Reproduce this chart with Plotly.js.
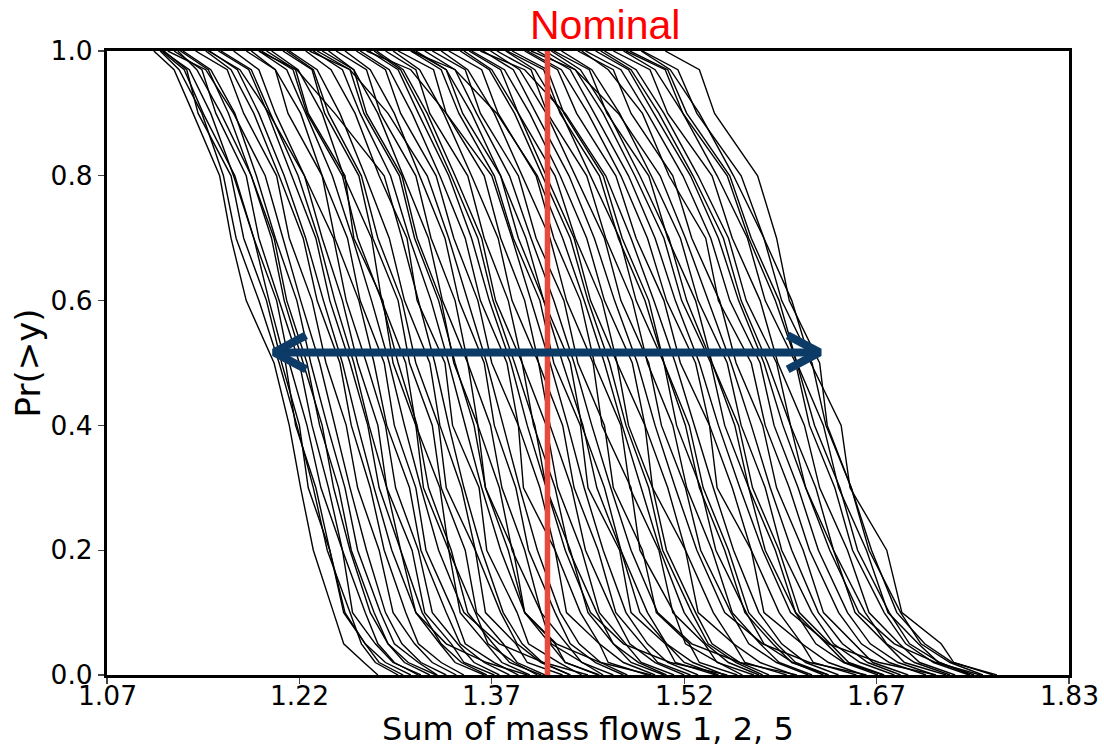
<!DOCTYPE html>
<html>
<head>
<meta charset="utf-8">
<script src="https://cdn.plot.ly/plotly-3.0.1.min.js"></script>
<style>html,body{margin:0;padding:0;background:#fff;}#chart{width:1104px;height:748px;}</style>
</head>
<body>
<div id="chart"></div>
<script>
// Exceedance probability levels shared by every curve
const probLevels = [1.0, 0.97, 0.9, 0.8, 0.7, 0.6, 0.5, 0.4, 0.3, 0.2, 0.1, 0.05, 0.02, 0.0];

// x value of each sample curve at the levels above
const curveX = [
  [1.107,1.123,1.138,1.159,1.168,1.180,1.202,1.214,1.223,1.233,1.249,1.257,1.273,1.284],
  [1.112,1.127,1.145,1.162,1.172,1.190,1.206,1.220,1.233,1.244,1.262,1.271,1.282,1.300],
  [1.115,1.133,1.142,1.168,1.178,1.196,1.208,1.222,1.229,1.246,1.257,1.274,1.285,1.304],
  [1.114,1.135,1.152,1.170,1.186,1.198,1.211,1.219,1.235,1.246,1.258,1.274,1.290,1.310],
  [1.113,1.131,1.146,1.171,1.186,1.204,1.214,1.228,1.239,1.256,1.264,1.282,1.296,1.318],
  [1.123,1.145,1.156,1.180,1.190,1.206,1.222,1.232,1.245,1.256,1.274,1.284,1.297,1.316],
  [1.126,1.141,1.160,1.184,1.200,1.210,1.225,1.240,1.249,1.262,1.278,1.292,1.305,1.325],
  [1.128,1.150,1.166,1.184,1.202,1.212,1.228,1.238,1.253,1.263,1.281,1.292,1.308,1.330],
  [1.130,1.152,1.171,1.188,1.203,1.220,1.231,1.244,1.258,1.268,1.286,1.297,1.316,1.331],
  [1.118,1.148,1.170,1.195,1.209,1.223,1.238,1.250,1.262,1.275,1.290,1.303,1.318,1.338],
  [1.140,1.165,1.178,1.204,1.214,1.232,1.243,1.259,1.268,1.285,1.296,1.313,1.327,1.346],
  [1.148,1.168,1.186,1.206,1.225,1.236,1.254,1.263,1.278,1.289,1.306,1.316,1.334,1.352],
  [1.151,1.173,1.190,1.210,1.227,1.241,1.256,1.268,1.281,1.295,1.314,1.338,1.370,1.402],
  [1.158,1.182,1.197,1.216,1.235,1.246,1.262,1.276,1.285,1.302,1.314,1.333,1.345,1.368],
  [1.160,1.184,1.199,1.221,1.237,1.250,1.265,1.277,1.291,1.302,1.319,1.334,1.350,1.370],
  [1.170,1.190,1.203,1.226,1.240,1.256,1.268,1.284,1.291,1.311,1.321,1.342,1.352,1.376],
  [1.150,1.175,1.198,1.226,1.249,1.259,1.275,1.290,1.298,1.316,1.327,1.347,1.360,1.380],
  [1.180,1.203,1.213,1.240,1.250,1.269,1.281,1.291,1.309,1.318,1.338,1.349,1.368,1.388],
  [1.184,1.203,1.223,1.240,1.260,1.270,1.289,1.297,1.314,1.322,1.344,1.353,1.376,1.395],
  [1.190,1.212,1.227,1.248,1.264,1.279,1.293,1.305,1.318,1.332,1.352,1.380,1.415,1.450],
  [1.196,1.219,1.229,1.258,1.265,1.288,1.296,1.314,1.320,1.340,1.349,1.370,1.382,1.404],
  [1.192,1.217,1.228,1.256,1.268,1.287,1.300,1.315,1.324,1.342,1.355,1.375,1.388,1.413],
  [1.200,1.221,1.240,1.257,1.279,1.287,1.306,1.314,1.333,1.340,1.361,1.371,1.392,1.410],
  [1.209,1.232,1.242,1.269,1.280,1.300,1.309,1.327,1.334,1.353,1.362,1.383,1.394,1.416],
  [1.212,1.233,1.245,1.271,1.284,1.303,1.314,1.332,1.338,1.361,1.369,1.393,1.402,1.430],
  [1.214,1.236,1.254,1.274,1.293,1.305,1.325,1.333,1.350,1.361,1.381,1.394,1.413,1.436],
  [1.190,1.220,1.250,1.289,1.303,1.316,1.329,1.340,1.352,1.366,1.383,1.398,1.414,1.436],
  [1.227,1.247,1.266,1.285,1.307,1.315,1.337,1.343,1.364,1.370,1.394,1.403,1.427,1.445],
  [1.233,1.256,1.270,1.294,1.309,1.326,1.340,1.353,1.366,1.381,1.400,1.425,1.460,1.500],
  [1.236,1.262,1.273,1.301,1.313,1.332,1.345,1.360,1.369,1.387,1.400,1.420,1.432,1.458],
  [1.240,1.265,1.275,1.303,1.315,1.334,1.344,1.363,1.369,1.391,1.400,1.424,1.432,1.459],
  [1.245,1.265,1.284,1.304,1.324,1.335,1.355,1.363,1.380,1.390,1.413,1.421,1.445,1.462],
  [1.251,1.275,1.286,1.314,1.326,1.345,1.355,1.373,1.382,1.400,1.413,1.433,1.445,1.470],
  [1.258,1.278,1.297,1.317,1.337,1.348,1.368,1.376,1.393,1.403,1.424,1.436,1.456,1.478],
  [1.230,1.262,1.292,1.323,1.340,1.355,1.370,1.383,1.396,1.410,1.428,1.443,1.460,1.481],
  [1.267,1.290,1.302,1.330,1.344,1.363,1.374,1.395,1.399,1.424,1.433,1.459,1.466,1.497],
  [1.270,1.293,1.311,1.333,1.353,1.365,1.386,1.395,1.412,1.424,1.444,1.459,1.478,1.503],
  [1.277,1.300,1.316,1.340,1.358,1.372,1.389,1.402,1.417,1.432,1.452,1.478,1.515,1.560],
  [1.281,1.302,1.320,1.342,1.363,1.375,1.392,1.408,1.417,1.436,1.450,1.470,1.484,1.510],
  [1.283,1.304,1.323,1.345,1.366,1.377,1.398,1.407,1.424,1.435,1.457,1.470,1.490,1.512],
  [1.290,1.314,1.325,1.355,1.368,1.387,1.398,1.417,1.426,1.445,1.459,1.480,1.492,1.518],
  [1.296,1.317,1.336,1.358,1.379,1.390,1.411,1.420,1.437,1.448,1.470,1.483,1.503,1.526],
  [1.300,1.328,1.338,1.368,1.381,1.400,1.411,1.430,1.439,1.458,1.472,1.493,1.505,1.531],
  [1.275,1.310,1.338,1.374,1.390,1.405,1.420,1.434,1.447,1.462,1.480,1.497,1.513,1.537],
  [1.310,1.334,1.348,1.376,1.391,1.412,1.423,1.444,1.450,1.475,1.484,1.511,1.519,1.551],
  [1.312,1.338,1.351,1.381,1.395,1.415,1.430,1.446,1.457,1.476,1.491,1.512,1.526,1.553],
  [1.314,1.338,1.358,1.381,1.401,1.415,1.436,1.445,1.463,1.476,1.497,1.512,1.533,1.558],
  [1.321,1.345,1.362,1.388,1.405,1.423,1.439,1.453,1.468,1.484,1.505,1.532,1.570,1.615],
  [1.327,1.353,1.365,1.395,1.409,1.431,1.442,1.463,1.470,1.493,1.504,1.530,1.538,1.568],
  [1.334,1.355,1.376,1.398,1.420,1.433,1.454,1.461,1.484,1.491,1.518,1.527,1.553,1.572],
  [1.340,1.366,1.379,1.409,1.423,1.444,1.455,1.476,1.483,1.506,1.517,1.542,1.552,1.581],
  [1.310,1.345,1.378,1.410,1.430,1.447,1.463,1.477,1.492,1.507,1.526,1.543,1.561,1.585],
  [1.349,1.372,1.392,1.414,1.436,1.450,1.467,1.480,1.498,1.509,1.532,1.545,1.567,1.588],
  [1.352,1.374,1.395,1.417,1.439,1.452,1.473,1.482,1.501,1.512,1.535,1.548,1.570,1.593],
  [1.356,1.381,1.395,1.424,1.440,1.461,1.473,1.495,1.501,1.527,1.537,1.565,1.574,1.607],
  [1.358,1.384,1.404,1.428,1.449,1.463,1.485,1.495,1.513,1.527,1.549,1.565,1.586,1.613],
  [1.367,1.391,1.409,1.435,1.455,1.471,1.489,1.503,1.519,1.536,1.558,1.588,1.625,1.670],
  [1.373,1.396,1.417,1.440,1.463,1.476,1.498,1.508,1.527,1.539,1.563,1.577,1.599,1.624],
  [1.378,1.405,1.418,1.449,1.464,1.485,1.497,1.517,1.528,1.548,1.564,1.586,1.601,1.627],
  [1.385,1.408,1.429,1.452,1.475,1.488,1.510,1.520,1.539,1.551,1.575,1.589,1.612,1.636],
  [1.386,1.415,1.428,1.459,1.474,1.495,1.510,1.527,1.538,1.558,1.574,1.596,1.611,1.640],
  [1.390,1.418,1.431,1.462,1.477,1.498,1.510,1.530,1.541,1.561,1.577,1.599,1.614,1.640],
  [1.365,1.400,1.432,1.464,1.484,1.502,1.519,1.534,1.549,1.565,1.585,1.603,1.622,1.648],
  [1.400,1.426,1.441,1.472,1.488,1.510,1.523,1.546,1.552,1.579,1.589,1.619,1.628,1.662],
  [1.402,1.429,1.450,1.476,1.497,1.512,1.535,1.546,1.564,1.579,1.601,1.619,1.640,1.668],
  [1.410,1.436,1.455,1.482,1.503,1.519,1.538,1.553,1.570,1.588,1.610,1.640,1.680,1.725],
  [1.416,1.440,1.462,1.487,1.510,1.524,1.547,1.558,1.577,1.590,1.614,1.630,1.652,1.679],
  [1.421,1.444,1.466,1.491,1.514,1.528,1.548,1.566,1.577,1.598,1.614,1.638,1.653,1.683],
  [1.423,1.451,1.465,1.498,1.513,1.535,1.548,1.569,1.580,1.601,1.617,1.641,1.656,1.684],
  [1.429,1.453,1.475,1.500,1.523,1.537,1.560,1.571,1.590,1.603,1.627,1.644,1.665,1.692],
  [1.405,1.440,1.474,1.507,1.527,1.545,1.563,1.579,1.594,1.611,1.632,1.651,1.671,1.697],
  [1.442,1.470,1.484,1.517,1.532,1.554,1.567,1.588,1.599,1.620,1.636,1.660,1.675,1.703],
  [1.445,1.466,1.493,1.514,1.543,1.553,1.579,1.590,1.609,1.625,1.648,1.666,1.688,1.717],
  [1.448,1.476,1.497,1.525,1.547,1.562,1.586,1.597,1.616,1.632,1.655,1.673,1.695,1.724],
  [1.456,1.482,1.502,1.531,1.553,1.569,1.589,1.604,1.622,1.641,1.664,1.692,1.725,1.760],
  [1.460,1.484,1.506,1.533,1.557,1.571,1.592,1.610,1.622,1.644,1.661,1.685,1.700,1.733],
  [1.463,1.488,1.510,1.537,1.561,1.575,1.599,1.610,1.630,1.644,1.669,1.686,1.708,1.736],
  [1.470,1.499,1.513,1.548,1.564,1.586,1.600,1.621,1.633,1.655,1.672,1.696,1.712,1.740],
  [1.478,1.503,1.525,1.552,1.576,1.590,1.614,1.625,1.645,1.659,1.684,1.701,1.723,1.751],
  [1.480,1.511,1.525,1.560,1.577,1.598,1.615,1.629,1.649,1.663,1.688,1.704,1.728,1.752],
  [1.483,1.513,1.528,1.562,1.579,1.601,1.615,1.636,1.648,1.670,1.687,1.711,1.727,1.755],
  [1.492,1.515,1.538,1.565,1.589,1.603,1.627,1.638,1.658,1.672,1.697,1.713,1.736,1.762],
  [1.493,1.521,1.536,1.571,1.589,1.611,1.626,1.650,1.657,1.686,1.698,1.729,1.739,1.770],
  [1.511,1.538,1.550,1.584,1.599,1.609,1.633,1.639,1.658,1.674,1.694,1.716,1.738,1.773]
];

// Nominal value (red line) and spread arrow
const nominalX = 1.418;
const nominalY = [0, 1];
const arrowX = [1.202, 1.633];
const arrowY = 0.517;

// Axis ticks and titles
const xTickVals = [1.07, 1.222, 1.374, 1.526, 1.678, 1.83];
const xTickText = ['1.07', '1.22', '1.37', '1.52', '1.67', '1.83'];
const yTickVals = [0.0, 0.2, 0.4, 0.6, 0.8, 1.0];
const yTickText = ['0.0', '0.2', '0.4', '0.6', '0.8', '1.0'];
const xRange = [1.07, 1.83];
const yRange = [0, 1];
const xTitle = 'Sum of mass flows 1, 2, 5';
const yTitle = 'Pr(>y)';
const nominalLabel = 'Nominal';

const W = 1104, H = 748;
const M = {l: 107, r: 35, t: 51, b: 73};
const plotW = W - M.l - M.r, plotH = H - M.t - M.b;

const traces = [];
curveX.forEach(function (xs) {
  traces.push({
    x: xs, y: probLevels, type: 'scatter', mode: 'lines',
    line: {color: '#000', width: 1.4},
    hoverinfo: 'skip', showlegend: false
  });
});

// red nominal line
traces.push({
  x: [nominalX, nominalX], y: nominalY, type: 'scatter', mode: 'lines',
  line: {color: '#e8493a', width: 5.5}, hoverinfo: 'skip', showlegend: false
});

// arrow shaft + chevron heads (head size in pixels converted to data units)
const headDx = 32 * (xRange[1] - xRange[0]) / plotW;
const headDy = 17 * (yRange[1] - yRange[0]) / plotH;
const arrowColor = '#0b3b66';
traces.push({
  x: arrowX, y: [arrowY, arrowY], type: 'scatter', mode: 'lines',
  line: {color: arrowColor, width: 8}, hoverinfo: 'skip', showlegend: false
});
traces.push({
  x: [arrowX[0] + headDx, arrowX[0], arrowX[0] + headDx],
  y: [arrowY + headDy, arrowY, arrowY - headDy], type: 'scatter', mode: 'lines',
  line: {color: arrowColor, width: 8}, hoverinfo: 'skip', showlegend: false
});
traces.push({
  x: [arrowX[1] - headDx, arrowX[1], arrowX[1] - headDx],
  y: [arrowY + headDy, arrowY, arrowY - headDy], type: 'scatter', mode: 'lines',
  line: {color: arrowColor, width: 8}, hoverinfo: 'skip', showlegend: false
});

const tickFont = {family: 'DejaVu Sans', size: 26.5, color: '#000'};

// x tick labels placed as annotations so they sit close to the axis
const annotations = xTickText.map(function (t, i) {
  return {
    text: t, xref: 'x', yref: 'paper', x: xTickVals[i], y: 0,
    xanchor: 'center', yanchor: 'middle', yshift: -20, borderpad: 0, showarrow: false,
    font: tickFont
  };
});
annotations.push({
  text: xTitle, xref: 'paper', yref: 'paper', x: 0.5, y: 0,
  xanchor: 'center', yanchor: 'middle', yshift: -54, borderpad: 0, showarrow: false,
  font: {family: 'DejaVu Sans', size: 32, color: '#000'}
});
annotations.push({
  text: nominalLabel, xref: 'x', yref: 'paper', x: nominalX, y: 1.042,
  xanchor: 'center', yanchor: 'middle', xshift: 58, showarrow: false,
  font: {family: 'Liberation Sans, Arial', size: 41, color: '#ff0000'}
});

const layout = {
  width: W, height: H,
  margin: M,
  paper_bgcolor: '#fff', plot_bgcolor: '#fff',
  showlegend: false,
  xaxis: {
    range: xRange, tickmode: 'array', tickvals: xTickVals, ticktext: xTickText,
    showticklabels: false,
    showgrid: false, zeroline: false,
    showline: true, mirror: true, linecolor: '#000', linewidth: 3,
    ticks: 'outside', ticklen: 6, tickwidth: 1.2, tickcolor: '#444',
    automargin: false
  },
  yaxis: {
    range: yRange, tickmode: 'array', tickvals: yTickVals, ticktext: yTickText,
    showgrid: false, zeroline: false,
    showline: true, mirror: true, linecolor: '#000', linewidth: 3,
    ticks: 'outside', ticklen: 6, tickwidth: 1.2, tickcolor: '#444',
    tickfont: tickFont,
    title: {text: yTitle, font: {family: 'DejaVu Sans', size: 34, color: '#000'}, standoff: 0},
    automargin: false
  },
  annotations: annotations
};

Plotly.newPlot('chart', traces, layout, {staticPlot: true, displayModeBar: false});
</script>
</body>
</html>
